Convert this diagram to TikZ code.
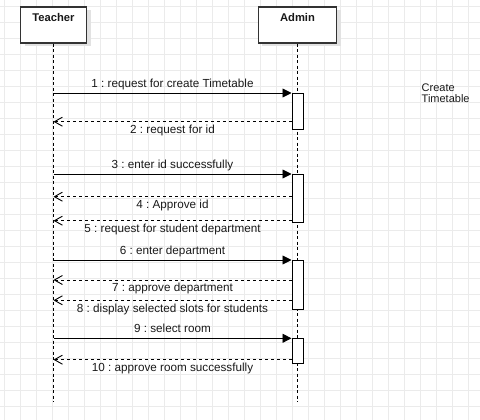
\documentclass[tikz,border=0pt]{standalone}
\usepackage{fontspec}
\setmainfont{Liberation Sans}
\usepackage{tikz}
\usetikzlibrary{arrows.meta,shadows}
\definecolor{gridgray}{HTML}{EBEBEB}
\definecolor{boxline}{HTML}{333333}
\definecolor{shadowgray}{HTML}{E2E2E2}
\frenchspacing

\begin{document}
\begin{tikzpicture}[
  x=1pt, y=-1pt,
  font=\fontsize{11.7}{14}\selectfont, text=black!90,
  gridline/.style={draw=gridgray, line width=0.8pt},
  header/.style={draw=boxline, line width=1.2pt, fill=white, inner sep=0pt,
    text height=14.5pt, text depth=21.5pt,
    drop shadow={shadow xshift=4pt, shadow yshift=-3pt, fill=shadowgray, opacity=1},
    font=\fontsize{11.2}{13}\selectfont\bfseries},
  lifeline/.style={dash pattern=on 3pt off 2.5pt, line width=0.9pt},
  activation/.style={draw, line width=1pt, fill=white, minimum width=11pt, inner sep=0pt, anchor=north},
  call/.style={-{Triangle[length=9pt,width=9pt]}, line width=0.9pt},
  reply/.style={-{Straight Barb[length=8pt,width=9pt]}, dash pattern=on 3pt off 3pt, line width=0.9pt},
  msgabove/.style={midway, anchor=base, yshift=5.7pt, inner sep=0pt},
  msgbelow/.style={midway, anchor=base, yshift=-11.7pt, inner sep=0pt},
  note/.style={align=left, inner sep=0pt, font=\fontsize{11}{10.7}\selectfont}
]
\useasboundingbox (0,0) rectangle (480,420);

% Grid
\foreach \gx in {4,20,...,468} \draw[gridline] (\gx,0) -- (\gx,420);
\foreach \gy in {6,22,...,406} \draw[gridline] (0,\gy) -- (480,\gy);

% Lifeline heads
\node[header, minimum width=66pt] (teacher) at (53.5,6.5) [anchor=north] {Teacher};
\node[header, minimum width=78.5pt] (admin) at (297.5,6.5) [anchor=north] {Admin};

% Lifelines
\coordinate (lifeend) at (0,401.5);
\draw[lifeline] (teacher.south) -- (teacher.south |- lifeend);
\draw[lifeline] (admin.south) -- (admin.south |- lifeend);

% Activations
\node[activation, minimum height=36.3pt] (act1) at (297.5,93) {};
\node[activation, minimum height=48.3pt] (act2) at (297.5,174) {};
\node[activation, minimum height=49.3pt] (act3) at (297.5,260) {};
\node[activation, minimum height=24.7pt] (act4) at (297.5,338.3) {};

% Reply levels
\coordinate (r2) at (0,121.7);
\coordinate (r4) at (0,196.7);
\coordinate (r5) at (0,220.7);
\coordinate (r7) at (0,280);
\coordinate (r8) at (0,300.3);
\coordinate (r10) at (0,359.7);

% Messages
\draw[call] (teacher.south |- act1.north) -- (act1.north west) node[msgabove] {1 : request for create Timetable};
\draw[reply] (act1.west |- r2) -- (teacher.south |- r2) node[msgbelow] {2 : request for id};
\draw[call] (teacher.south |- act2.north) -- (act2.north west) node[msgabove] {3 : enter id successfully};
\draw[reply] (act2.west |- r4) -- (teacher.south |- r4) node[msgbelow] {4 : Approve id};
\draw[reply] (act2.west |- r5) -- (teacher.south |- r5) node[msgbelow] {5 : request for student department};
\draw[call] (teacher.south |- act3.north) -- (act3.north west) node[msgabove] {6 : enter department};
\draw[reply] (act3.west |- r7) -- (teacher.south |- r7) node[msgbelow] {7 : approve department};
\draw[reply] (act3.west |- r8) -- (teacher.south |- r8) node[msgbelow] {8 : display selected slots for students};
\draw[call] (teacher.south |- act4.north) -- (act4.north west) node[msgabove] {9 : select room};
\draw[reply] (act4.west |- r10) -- (teacher.south |- r10) node[msgbelow] {10 : approve room successfully};

% Note
\node[note, anchor=north west] (note) at (421.5,83.5) {Create\\Timetable};

\end{tikzpicture}
\end{document}
